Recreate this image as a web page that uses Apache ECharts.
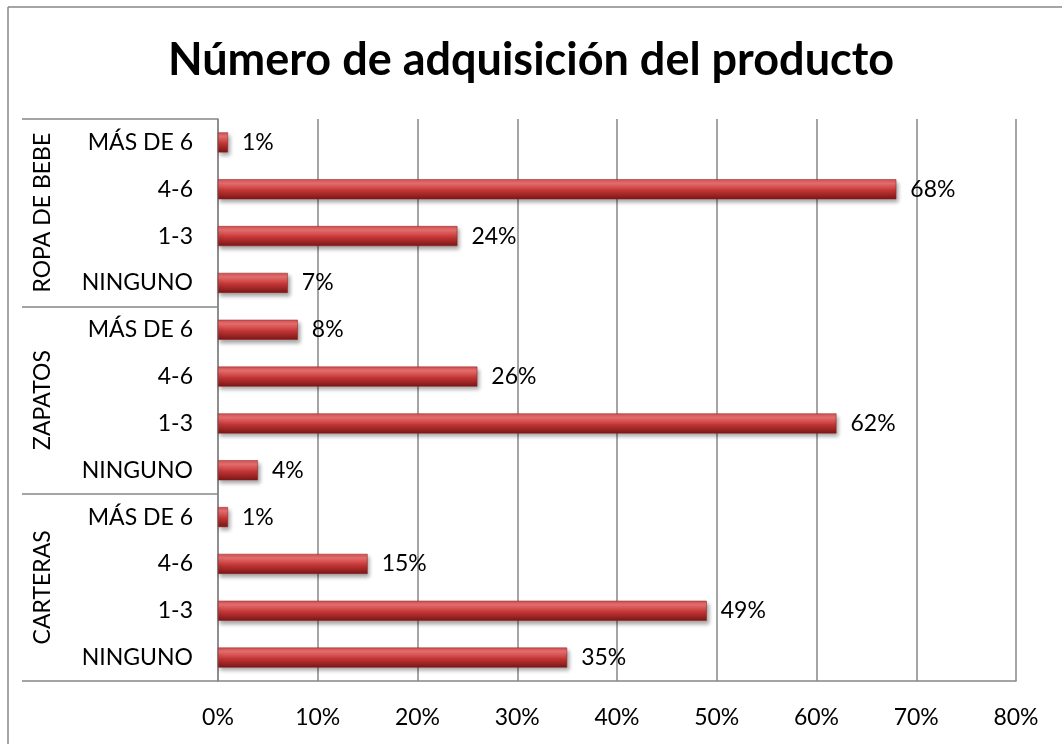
<!DOCTYPE html>
<html>
<head>
<meta charset="utf-8">
<script src="https://cdn.jsdelivr.net/npm/echarts@6/dist/echarts.min.js"></script>
<style>
  html, body { margin: 0; padding: 0; background: #fff; }
  #chart { width: 1062px; height: 744px; }
</style>
</head>
<body>
<div id="chart"></div>
<script>
// categories from bottom to top
var subCats = ['NINGUNO', '1-3', '4-6', 'MÁS DE 6',
               'NINGUNO', '1-3', '4-6', 'MÁS DE 6',
               'NINGUNO', '1-3', '4-6', 'MÁS DE 6'];
var groups = ['CARTERAS', 'ZAPATOS', 'ROPA DE BEBE'];
var values = [35, 49, 15, 1,
              4, 62, 26, 8,
              7, 24, 68, 1];
var xTicks = [0, 10, 20, 30, 40, 50, 60, 70, 80];

var font = 'Lato, "Open Sans", sans-serif';
var grey = '#878787';

var dom = document.getElementById('chart');
var myChart = echarts.init(dom);

myChart.setOption({
    animation: false,
    title: {
        text: 'Número de adquisición del producto',
        left: 'center',
        top: 33,
        textStyle: { fontFamily: font, fontWeight: 'bold', fontSize: 45, color: '#000' }
    },
    grid: { left: 218, right: 46, top: 119, bottom: 63 },
    xAxis: {
        type: 'value',
        min: xTicks[0],
        max: xTicks[xTicks.length - 1],
        interval: 10,
        axisLine: { show: true, lineStyle: { color: grey, width: 1.5 } },
        axisTick: { show: false },
        splitLine: { show: true, lineStyle: { color: grey, width: 1.5 } },
        axisLabel: {
            margin: 25,
            fontFamily: font, fontSize: 23, color: '#000',
            formatter: function (v) { return v + '%'; }
        }
    },
    yAxis: [
        {
            type: 'category',
            data: subCats,
            axisLine: { show: true, lineStyle: { color: grey, width: 1.5 } },
            axisTick: { show: false },
            axisLabel: { interval: 0, margin: 25, fontFamily: font, fontSize: 23, color: '#000' }
        },
        {
            type: 'category',
            data: groups,
            position: 'left',
            offset: 0,
            axisLine: { show: false },
            axisTick: { show: true, interval: 0, length: 196, lineStyle: { color: grey, width: 1.5 } },
            axisLabel: {
                interval: 0,
                rotate: 90,
                margin: 164,
                fontFamily: font, fontSize: 23, color: '#000'
            }
        }
    ],
    series: [
        {
            type: 'bar',
            yAxisIndex: 0,
            data: values,
            barWidth: 20,
            itemStyle: {
                color: new echarts.graphic.LinearGradient(0, 0, 0, 1, [
                    { offset: 0, color: '#d45050' },
                    { offset: 0.2, color: '#ea7070' },
                    { offset: 0.55, color: '#c43636' },
                    { offset: 1, color: '#7a1616' }
                ]),
                borderColor: '#8a2020',
                borderWidth: 0.5,
                shadowColor: 'rgba(0,0,0,0.35)',
                shadowBlur: 4,
                shadowOffsetX: 2,
                shadowOffsetY: 3
            },
            label: {
                show: true,
                position: 'right',
                distance: 14,
                fontFamily: font, fontSize: 23, color: '#000',
                formatter: function (p) { return p.value + '%'; }
            }
        }
    ],
    graphic: [
        { type: 'line', shape: { x1: 8, y1: 7, x2: 1062, y2: 7 }, style: { stroke: grey, lineWidth: 1.5 } },
        { type: 'line', shape: { x1: 8, y1: 7, x2: 8, y2: 744 }, style: { stroke: grey, lineWidth: 1.5 } }
    ]
});
</script>
</body>
</html>
